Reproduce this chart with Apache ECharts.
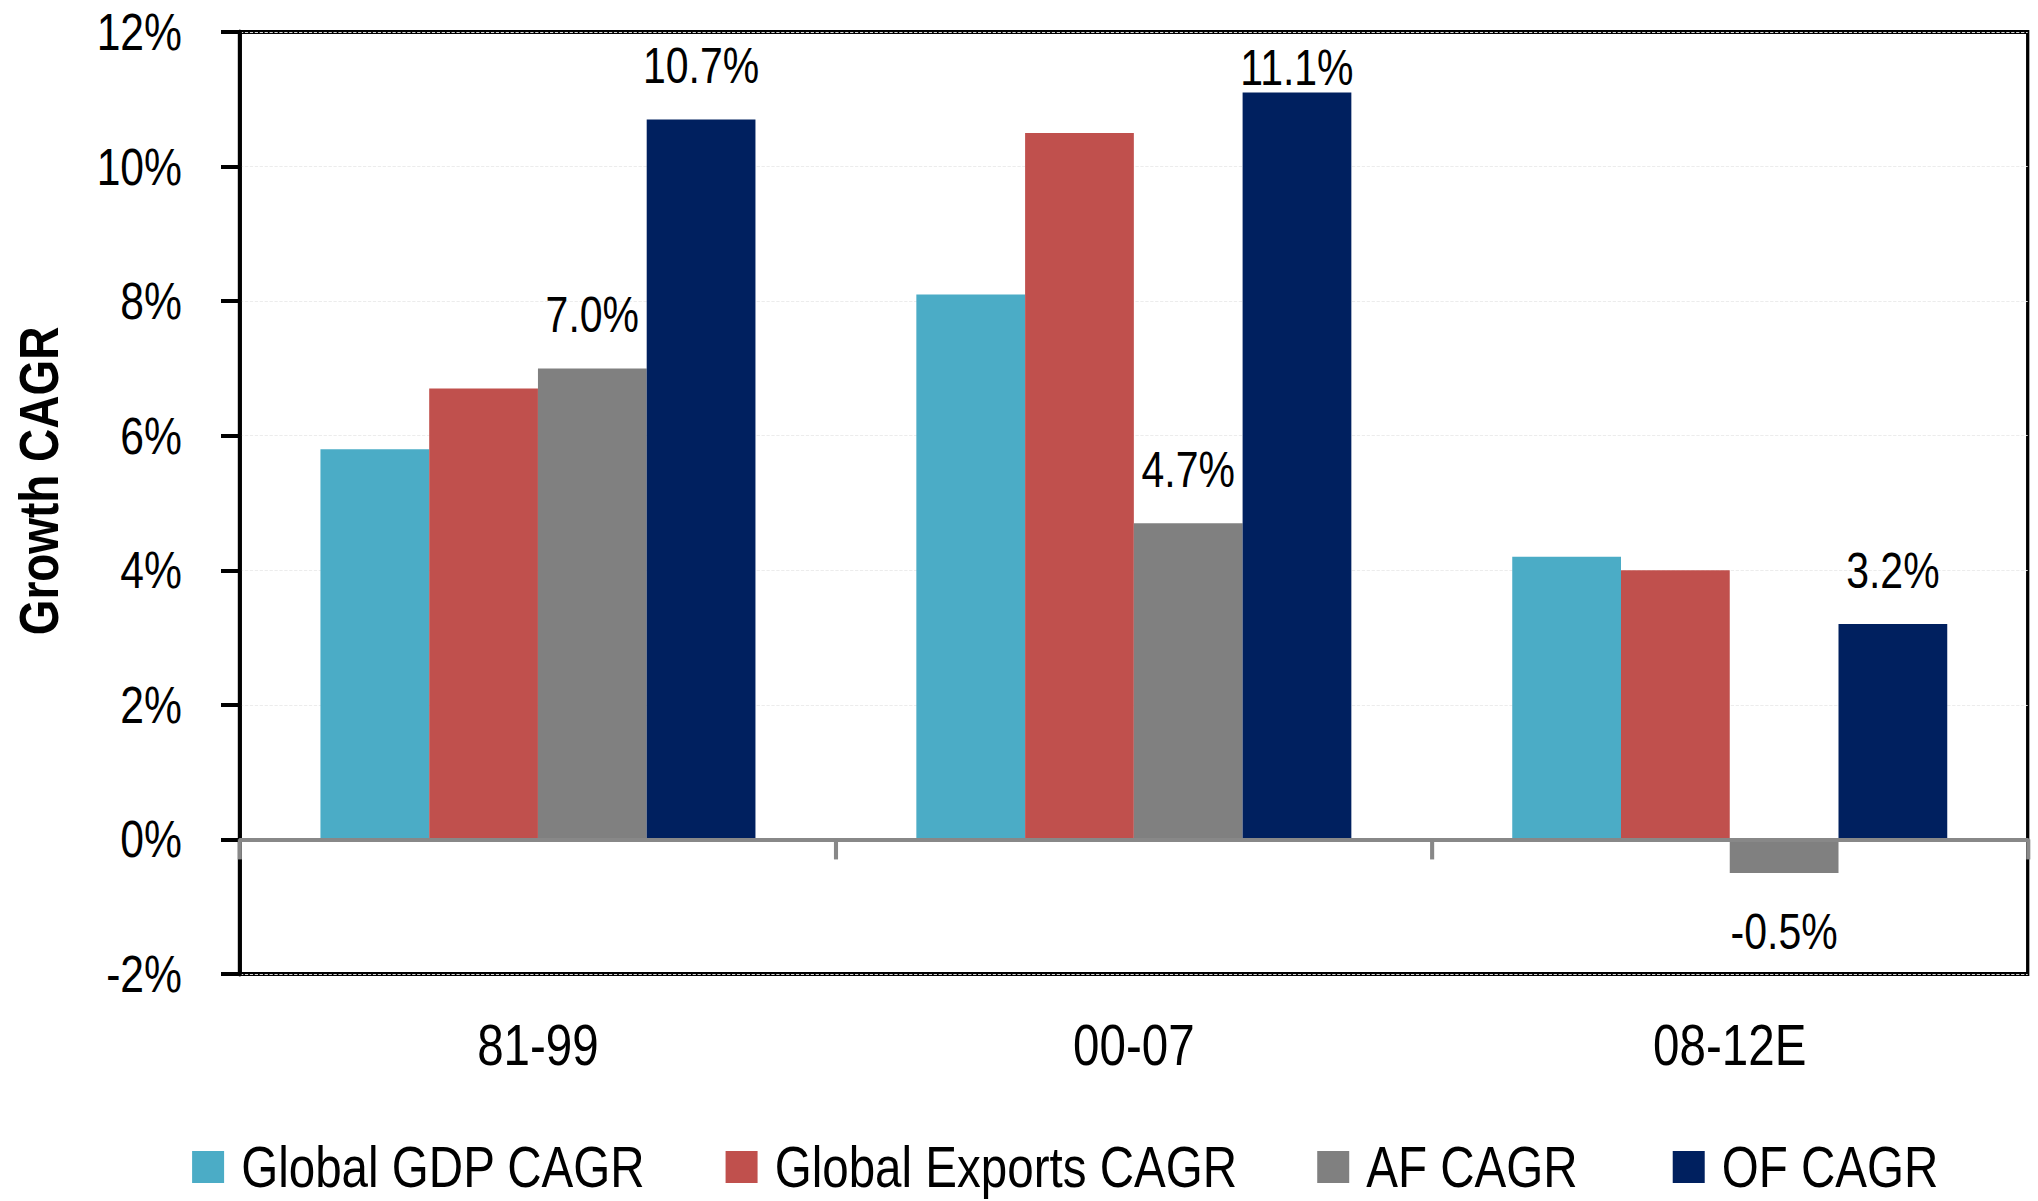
<!DOCTYPE html>
<html>
<head>
<meta charset="utf-8">
<script src="https://cdn.jsdelivr.net/npm/echarts@6/dist/echarts.min.js"></script>
<style>
  html, body { margin: 0; padding: 0; background: #fff; overflow: hidden; width: 2038px; height: 1201px; }
  /* The chart is laid out wider and squeezed horizontally so that
     Liberation Sans reads as a narrow face. */
  #chart { width: 2485px; height: 1201px; transform: scaleX(0.82); transform-origin: 0 0; }
</style>
</head>
<body>
<div id="chart"></div>
<script>
// Periods and growth rates (percent CAGR)
const categories = ['81-99', '00-07', '08-12E'];
const gdpCagr = [5.8, 8.1, 4.2];
const exportsCagr = [6.7, 10.5, 4.0];
const afCagr = [7.0, 4.7, -0.5];
const ofCagr = [10.7, 11.1, 3.2];

// Value axis range and step (percent)
const yMin = -2;
const yMax = 12;
const yStep = 2;

// horizontal squeeze applied to the container
const SX = 0.82;
const hx = px => px / SX;   // on-screen horizontal size -> layout size

const FONT = '"Liberation Sans", Arial, sans-serif';

const chart = echarts.init(document.getElementById('chart'), null, { renderer: 'svg' });

const pct = p => p.value.toFixed(1) + '%';

// Labelled series: negative bars get their label underneath,
// bars close to the top of the plot get a tighter gap.
function labelled(values) {
  return values.map(v => {
    if (v < 0) return { value: v, label: { position: 'bottom', distance: 34 } };
    if (v > 11) return { value: v, label: { distance: 0 } };
    return { value: v };
  });
}

const valueLabel = {
  show: true,
  position: 'top',
  distance: 28,
  formatter: pct,
  fontSize: 50,
  fontFamily: FONT,
  color: '#000'
};

const legendText = { fontSize: 58, lineHeight: 56, color: '#000', fontFamily: FONT, padding: [0, 0, 0, hx(13)] };

const option = {
  animation: false,
  backgroundColor: '#fff',
  grid: {
    left: hx(240), right: hx(10), top: 32, bottom: 227,
    show: true, borderColor: '#000', borderWidth: 4,
    backgroundColor: 'transparent'
  },
  legend: {
    left: hx(188),
    top: 1133,
    itemWidth: hx(32),
    itemHeight: 32,
    itemGap: hx(80),
    icon: 'rect',
    textStyle: legendText,
    data: [
      'Global GDP CAGR',
      'Global Exports CAGR',
      { name: 'AF CAGR', textStyle: Object.assign({}, legendText, { padding: [0, hx(15), 0, hx(13)] }) },
      'OF CAGR'
    ]
  },
  graphic: [{
    type: 'text',
    x: hx(39),
    y: 481,
    rotation: Math.PI / 2,
    scaleX: SX,
    scaleY: 1 / SX,
    style: {
      text: 'Growth CAGR',
      fontSize: 56,
      fontWeight: 'bold',
      fontFamily: FONT,
      fill: '#000',
      align: 'center',
      verticalAlign: 'middle'
    }
  }],
  xAxis: [
    {
      // period labels under the plot
      type: 'category',
      data: categories,
      position: 'bottom',
      axisLine: { show: false, onZero: false },
      axisTick: { show: false },
      axisLabel: { margin: 42, fontSize: 58, color: '#000', fontFamily: FONT },
      splitLine: { show: false }
    },
    {
      // zero baseline with period separators
      type: 'category',
      data: categories,
      position: 'top',
      z: 5,
      axisLine: { show: true, onZero: true, lineStyle: { color: '#888', width: 4 } },
      axisTick: { show: true, inside: true, length: 20, lineStyle: { color: '#888', width: 5 } },
      axisLabel: { show: false },
      splitLine: { show: false }
    }
  ],
  yAxis: {
    type: 'value',
    min: yMin,
    max: yMax,
    interval: yStep,
    axisLine: { show: true, lineStyle: { color: '#000', width: 5 } },
    axisTick: { show: true, length: hx(19), lineStyle: { color: '#000', width: 4 } },
    axisLabel: { formatter: '{value}%', fontSize: 52, margin: hx(58), color: '#000', fontFamily: FONT },
    splitLine: { show: true, lineStyle: { color: '#eaeaea', width: 1, type: 'dashed' } }
  },
  series: [
    {
      name: 'Global GDP CAGR', type: 'bar', data: gdpCagr,
      barGap: '0%', barCategoryGap: '27%',
      itemStyle: { color: '#4BACC6' }
    },
    {
      name: 'Global Exports CAGR', type: 'bar', data: exportsCagr,
      barGap: '0%', barCategoryGap: '27%',
      itemStyle: { color: '#C0504D' }
    },
    {
      name: 'AF CAGR', type: 'bar', data: labelled(afCagr),
      barGap: '0%', barCategoryGap: '27%',
      itemStyle: { color: '#808080' },
      label: valueLabel
    },
    {
      name: 'OF CAGR', type: 'bar', data: labelled(ofCagr),
      barGap: '0%', barCategoryGap: '27%',
      itemStyle: { color: '#00205F' },
      label: valueLabel
    }
  ]
};

chart.setOption(option);
</script>
</body>
</html>
